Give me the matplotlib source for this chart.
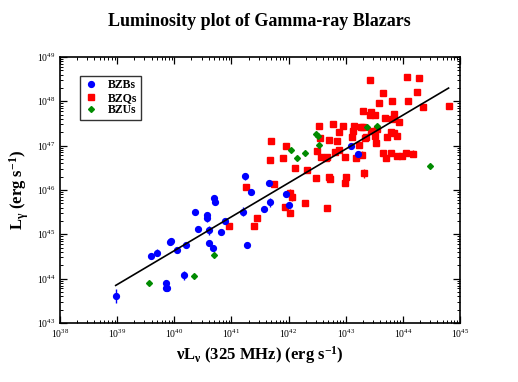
import numpy as np
import matplotlib
matplotlib.use("Agg")
import matplotlib.pyplot as plt

# ===================================
# Data (log10 luminosities)
# ===================================

bzb_x = [38.975, 39.85, 39.85, 39.88, 39.60, 39.69, 39.93, 39.95, 40.05, 40.17,
         40.20, 40.37, 40.41, 40.58, 40.57, 40.61, 40.60, 40.67, 40.70, 40.72,
         40.81, 40.88, 41.20, 41.24, 41.35, 41.28, 41.57, 41.65, 41.68, 41.96,
         42.01, 43.09, 43.21]
bzb_y = [43.61, 43.90, 43.80, 43.80, 44.50, 44.58, 44.83, 44.85, 44.64, 44.08,
         44.75, 45.51, 45.11, 45.44, 45.36, 45.09, 44.81, 44.70, 45.82, 45.73,
         45.05, 45.29, 45.51, 46.31, 45.95, 44.75, 45.58, 46.15, 45.72, 45.90,
         45.65, 47.00, 46.81]
bzb_err = [0.15, 0.0, 0.06, 0.0, 0.0, 0.08, 0.06, 0.0, 0.0, 0.10,
           0.05, 0.0, 0.0, 0.0, 0.08, 0.10, 0.0, 0.06, 0.0, 0.0,
           0.0, 0.0, 0.10, 0.08, 0.0, 0.0, 0.0, 0.0, 0.10, 0.0,
           0.0, 0.0, 0.0]

bzq_x = [40.96, 41.26, 41.40, 41.45, 41.75, 41.70, 41.67,
         43.42, 44.08, 44.28, 43.66, 44.25, 43.81, 44.09, 43.59, 44.35, 44.80,
         43.31, 43.45, 43.43, 43.51, 43.85, 43.68, 43.81, 43.94, 42.54, 42.78,
         42.95, 43.15, 43.27, 43.31, 42.88, 43.13, 43.45, 43.55, 42.55, 43.11,
         43.35, 43.33, 43.52, 43.79, 43.84, 43.89, 43.73, 42.71, 42.84, 43.53,
         41.96, 43.24, 42.50, 42.89, 42.82, 43.29, 43.18, 41.90, 42.56, 42.67,
         42.66, 42.98, 43.66, 43.71, 43.79, 43.90, 43.98, 44.05, 44.18, 42.11,
         42.32, 43.32, 42.48, 42.71, 42.73, 43.01, 42.99, 42.03, 42.06, 41.94,
         42.29, 42.67, 42.03]
bzq_y = [45.19, 46.06, 45.19, 45.37, 46.14, 47.10, 46.68,
         48.47, 48.54, 48.52, 48.19, 48.21, 48.01, 48.01, 47.96, 47.87, 47.90,
         47.77, 47.76, 47.69, 47.68, 47.72, 47.63, 47.59, 47.53, 47.44, 47.48,
         47.45, 47.44, 47.42, 47.41, 47.30, 47.32, 47.33, 47.38, 47.17, 47.20,
         47.20, 47.17, 47.22, 47.30, 47.29, 47.21, 47.19, 47.12, 47.11, 47.07,
         46.99, 47.02, 46.88, 46.89, 46.86, 46.79, 46.71, 46.73, 46.74, 46.75,
         46.72, 46.74, 46.83, 46.73, 46.84, 46.77, 46.77, 46.84, 46.82, 46.50,
         46.46, 46.38, 46.28, 46.30, 46.24, 46.30, 46.15, 45.94, 45.84, 45.62,
         45.70, 45.60, 45.49]
bzq_err = [0.05, 0.05, 0.0, 0.0, 0.0, 0.0, 0.0,
           0.0, 0.0, 0.0, 0.0, 0.0, 0.0, 0.0, 0.0, 0.0, 0.0,
           0.0, 0.0, 0.0, 0.0, 0.0, 0.0, 0.0, 0.07, 0.0, 0.0,
           0.0, 0.08, 0.0, 0.0, 0.0, 0.0, 0.0, 0.0, 0.0, 0.0,
           0.0, 0.0, 0.0, 0.0, 0.0, 0.05, 0.0, 0.0, 0.0, 0.0,
           0.0, 0.0, 0.0, 0.0, 0.0, 0.08, 0.06, 0.0, 0.0, 0.05,
           0.0, 0.0, 0.0, 0.0, 0.0, 0.05, 0.0, 0.0, 0.07, 0.0,
           0.0, 0.10, 0.0, 0.06, 0.05, 0.06, 0.0, 0.08, 0.08, 0.0,
           0.06, 0.0, 0.08]

bzu_x = [39.56, 40.34, 40.70, 42.48, 42.51, 43.38, 43.55, 42.54, 42.04, 42.28,
         42.14, 44.48]
bzu_y = [43.91, 44.06, 44.53, 47.27, 47.22, 47.41, 47.44, 47.02, 46.89, 46.84,
         46.72, 46.54]

# linear fit in log-log space: log Lg = slope * log Lr + intercept
fit_slope = 0.764
fit_intercept = 14.07
fit_range = [38.975, 44.80]

# ===================================
# Style
# ===================================

plt.rcParams["font.family"] = ["Liberation Serif", "DejaVu Serif"]
plt.rcParams["mathtext.fontset"] = "custom"
plt.rcParams["mathtext.rm"] = "Liberation Serif"
plt.rcParams["mathtext.it"] = "Liberation Serif:italic"
plt.rcParams["mathtext.bf"] = "Liberation Serif:bold"
plt.rcParams["xtick.direction"] = "in"
plt.rcParams["ytick.direction"] = "in"


def to_lin(lx, ly, err):
    lx = np.array(lx)
    ly = np.array(ly)
    e = np.array(err)
    y = 10 ** ly
    yerr = np.vstack([y - 10 ** (ly - e), 10 ** (ly + e) - y])
    return 10 ** lx, y, yerr


fig = plt.figure(figsize=(5.18, 3.82), dpi=100)
ax = fig.add_axes([0.1158, 0.1545, 0.7722, 0.6965])

# ===================================
# Points
# ===================================

x, y, yerr = to_lin(bzq_x, bzq_y, bzq_err)
ax.errorbar(x, y, yerr=yerr, fmt="s", color="#ff0000", ms=3.8, mec="#ff0000",
            elinewidth=1.0, capsize=0, zorder=3)

x, y, yerr = to_lin(bzb_x, bzb_y, bzb_err)
ax.errorbar(x, y, yerr=yerr, fmt="o", color="#0000ff", ms=4.2, mec="#0000ff",
            elinewidth=1.0, capsize=0, zorder=4)

x, y, yerr = to_lin(bzu_x, bzu_y, [0.0] * len(bzu_x))
ax.plot(x, y, "D", color="#008b00", ms=3, zorder=5)

# fit line
fx = np.array(fit_range)
ax.plot(10 ** fx, 10 ** (fit_slope * fx + fit_intercept), color="black", lw=1.2, zorder=6)

# ===================================
# Axes
# ===================================

ax.set_xscale("log")
ax.set_yscale("log")
ax.set_xlim(1e38, 1e45)
ax.set_ylim(1e43, 1e49)
ax.set_xticks([10.0 ** k for k in range(38, 46)])
ax.set_yticks([10.0 ** k for k in range(43, 50)])
ax.xaxis.set_minor_locator(matplotlib.ticker.LogLocator(base=10, subs=np.arange(2, 10), numticks=20))
ax.yaxis.set_minor_locator(matplotlib.ticker.LogLocator(base=10, subs=np.arange(2, 10), numticks=20))
ax.xaxis.set_minor_formatter(matplotlib.ticker.NullFormatter())
ax.yaxis.set_minor_formatter(matplotlib.ticker.NullFormatter())
ax.tick_params(which="both", top=True, right=True, labelsize=7)
ax.tick_params(which="major", length=5, width=0.9)
ax.tick_params(which="minor", length=2.5, width=0.7)
for s in ax.spines.values():
    s.set_linewidth(1.2)

ax.set_xlabel(r"$\mathbf{νL_{ν}}$ (325 MHz) (erg s$^{\mathbf{-1}}$)",
              fontsize=12, fontweight="bold", labelpad=3)
ax.set_ylabel(r"$\mathbf{L_{γ}}$ (erg s$^{\mathbf{-1}}$)",
              fontsize=12, fontweight="bold", labelpad=4)
fig.suptitle("Luminosity plot of Gamma-ray Blazars", fontsize=13, fontweight="bold", y=0.965)

# ===================================
# Legend
# ===================================

h1 = plt.Line2D([], [], marker="o", ls="", color="#0000ff", ms=4.2)
h2 = plt.Line2D([], [], marker="s", ls="", color="#ff0000", ms=3.8)
h3 = plt.Line2D([], [], marker="D", ls="", color="#008b00", ms=3)
leg = ax.legend([h1, h2, h3], ["BZBs", "BZQs", "BZUs"], loc="upper left",
                bbox_to_anchor=(0.05, 0.93), frameon=True, fancybox=False,
                edgecolor="black", prop={"weight": "bold", "size": 8.5},
                handletextpad=0.9, borderpad=0.3, labelspacing=0.05,
                handlelength=1.2, borderaxespad=0)
leg.get_frame().set_linewidth(1.0)

fig.savefig("out.png", dpi=100)
